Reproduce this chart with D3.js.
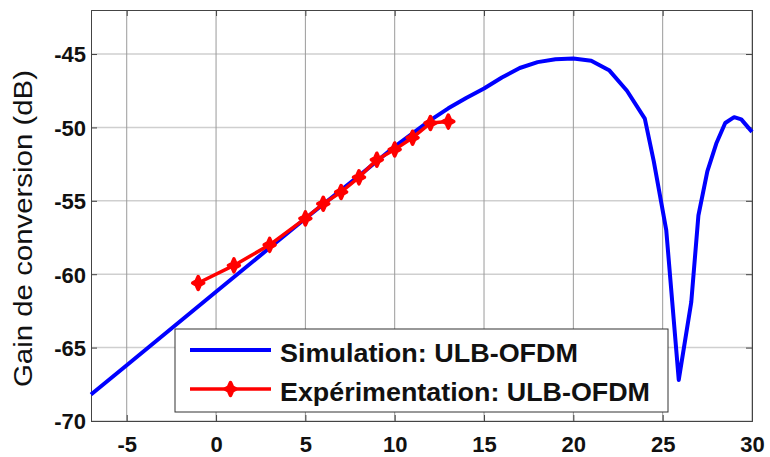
<!DOCTYPE html>
<html><head><meta charset="utf-8">
<script src="https://cdn.jsdelivr.net/npm/d3@7"></script>
<style>body{margin:0;background:#fff}svg{display:block}text{font-family:"Liberation Sans",Arial,sans-serif}</style>
</head><body>
<svg id="c" width="770" height="457"></svg>
<script>
// Simulation: ULB-OFDM
const simX = [-7, -5, 0, 3, 5, 8, 10, 12, 13, 14, 15, 16, 17, 18, 19, 20, 21, 22, 23, 24, 24.5, 25.2, 25.9, 26.6, 27, 27.5, 28, 28.5, 29, 29.4, 30];
const simY = [-68.2, -66.2, -61.2, -58.2, -56.2, -53.3, -51.3, -49.5, -48.7, -48.0, -47.35, -46.6, -45.95, -45.55, -45.35, -45.3, -45.45, -46.1, -47.5, -49.4, -52.3, -57.0, -67.2, -61.9, -56.0, -53.0, -51.1, -49.7, -49.3, -49.45, -50.3];
// Expérimentation: ULB-OFDM
const expX = [-1, 1, 3, 5, 6, 7, 8, 9, 10, 11, 12, 13];
const expY = [-60.6, -59.4, -58.0, -56.2, -55.2, -54.4, -53.4, -52.2, -51.5, -50.7, -49.7, -49.6];
const xTicks = [-5, 0, 5, 10, 15, 20, 25, 30];
const yTicks = [-70, -65, -60, -55, -50, -45];
const legendLabels = ["Simulation: ULB-OFDM", "Expérimentation: ULB-OFDM"];
const yLabel = "Gain de conversion (dB)";

const svg = d3.select("#c");
const L = 91, R = 752, T = 10, B = 421;
const x = d3.scaleLinear().domain([-7, 30]).range([L, R]);
const y = d3.scaleLinear().domain([-70, -42]).range([B, T]);

// grid
svg.append("g").selectAll("line").data(yTicks).join("line")
  .attr("x1", L).attr("x2", R).attr("y1", d => y(d)).attr("y2", d => y(d))
  .attr("stroke", "#cfcfcf").attr("stroke-width", 1.5);
svg.append("g").selectAll("line").data(xTicks).join("line")
  .attr("x1", d => x(d)).attr("x2", d => x(d)).attr("y1", T).attr("y2", B)
  .attr("stroke", "#9a9a9a").attr("stroke-width", 1);

// axes (inward ticks like MATLAB)
const fs = 22;
const fmt = d => String(d);
const xAx = svg.append("g").attr("transform", `translate(0,${B})`)
  .call(d3.axisBottom(x).tickValues(xTicks).tickSize(-6).tickPadding(15).tickFormat(fmt));
const yAx = svg.append("g").attr("transform", `translate(${L},0)`)
  .call(d3.axisLeft(y).tickValues(yTicks).tickSize(-6).tickPadding(5).tickFormat(fmt));
svg.append("g").attr("transform", `translate(0,${T})`)
  .call(d3.axisTop(x).tickValues(xTicks).tickSize(-6).tickFormat(""));
svg.append("g").attr("transform", `translate(${R},0)`)
  .call(d3.axisRight(y).tickValues(yTicks).tickSize(-6).tickFormat(""));
svg.selectAll(".domain").attr("stroke", "#444");
svg.selectAll(".tick line").attr("stroke", "#444");
[xAx, yAx].forEach(a => a.selectAll("text").attr("font-size", fs).attr("font-family", "Liberation Sans, Arial, sans-serif").attr("fill", "#111").attr("font-weight", "bold"));
yAx.selectAll("text").attr("dy", "0.36em");

// y label
svg.append("text").attr("transform", `translate(32,${(T + B) / 2 + 13}) rotate(-90)`)
  .attr("text-anchor", "middle").attr("font-size", 26).attr("fill", "#111")
  .attr("textLength", 317).attr("lengthAdjust", "spacingAndGlyphs").text(yLabel);

// lines
const line = d3.line().x(d => x(d[0])).y(d => y(d[1]));
svg.append("path").datum(simX.map((v, i) => [v, simY[i]]))
  .attr("d", line).attr("fill", "none").attr("stroke", "#0000ff").attr("stroke-width", 4).attr("stroke-linejoin", "round");
const expD = expX.map((v, i) => [v, expY[i]]);
svg.append("path").datum(expD)
  .attr("d", line).attr("fill", "none").attr("stroke", "#ff0000").attr("stroke-width", 3.5).attr("stroke-linejoin", "round");
const star = "M0,-6.5L2,-2L5.5,0L2,2L0,6.5L-2,2L-5.5,0L-2,-2Z";
svg.append("g").selectAll("path").data(expD).join("path")
  .attr("transform", d => `translate(${x(d[0])},${y(d[1])})`)
  .attr("d", star).attr("fill", "#ff0000").attr("stroke", "#ff0000").attr("stroke-width", 3.5).attr("stroke-linejoin", "round");

// legend
const lg = svg.append("g");
lg.append("rect").attr("x", 175).attr("y", 329).attr("width", 493).attr("height", 83)
  .attr("fill", "#fff").attr("stroke", "#333").attr("stroke-width", 1);
const rows = [{c: "#0000ff", w: 4, m: false, len: 298}, {c: "#ff0000", w: 3.5, m: true, len: 370}];
rows.forEach((r, i) => {
  const yy = 350 + i * 39;
  lg.append("line").attr("x1", 190).attr("x2", 271).attr("y1", yy).attr("y2", yy)
    .attr("stroke", r.c).attr("stroke-width", r.w);
  if (r.m) lg.append("path").attr("transform", `translate(230.5,${yy})`).attr("d", star)
    .attr("fill", r.c).attr("stroke", r.c).attr("stroke-width", 3.5).attr("stroke-linejoin", "round");
  lg.append("text").attr("x", 280).attr("y", yy + 12).attr("font-size", 25).attr("font-weight", "bold")
    .attr("textLength", r.len).attr("lengthAdjust", "spacingAndGlyphs")
    .attr("fill", "#111").text(legendLabels[i]);
});
</script>
</body></html>
